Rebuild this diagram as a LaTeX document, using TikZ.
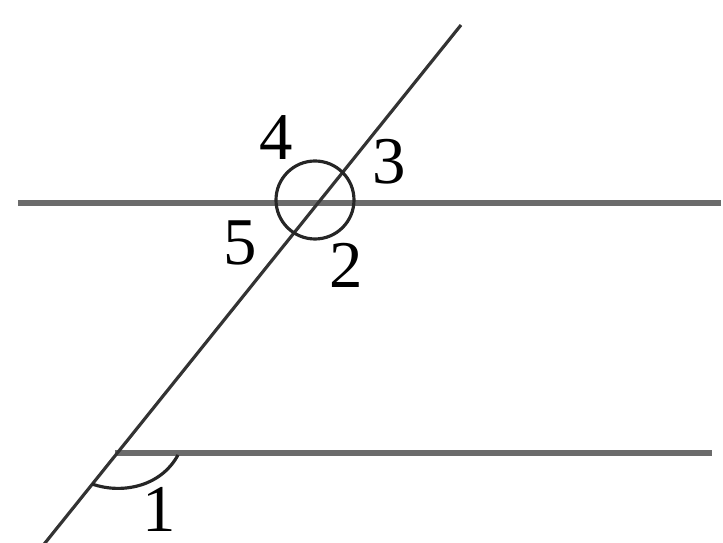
\documentclass[tikz,border=0pt]{standalone}
\usepackage{fontspec}
\setmainfont{Liberation Serif}
\usetikzlibrary{calc}

\begin{document}
\begin{tikzpicture}[
        x=0.01cm,y=-0.01cm,
        parallel/.style={draw=black!58,line width=1.7pt},
        secant/.style={draw=black!80,line width=0.9pt},
        anglemark/.style={draw=black!85,line width=0.9pt},
        num/.style={font={\fontsize{19}{22}\selectfont},inner sep=0pt}
        ]

        % Frame
        \useasboundingbox (0,0) rectangle (723,543);

        % Parallel lines
        \coordinate (a1) at (18,203);
        \coordinate (a2) at (721,203);
        \coordinate (b1) at (115,453);
        \coordinate (b2) at (712,453);
        \draw[parallel](a1)--(a2);
        \draw[parallel](b1)--(b2);

        % Transversal
        \coordinate (t1) at (461,25);
        \coordinate (t2) at (37,553);
        \draw[secant](t1)--(t2);

        % Angle marks
        \coordinate (top) at (315,200);
        \draw[anglemark](top)circle(39);
        \coordinate (m1) at (178,455);
        \coordinate (m2) at (92,484);
        \draw[anglemark](m1) .. controls (160,488) and (120,494) .. (m2);

        % Labels
        \node[num] (n4) at (276,138) {4};
        \node[num] (n3) at (389,162) {3};
        \node[num] (n5) at (240,243) {5};
        \node[num] (n2) at (346,265) {2};
        \node[num] (n1) at (159,509) {1};
    \end{tikzpicture}
\end{document}
